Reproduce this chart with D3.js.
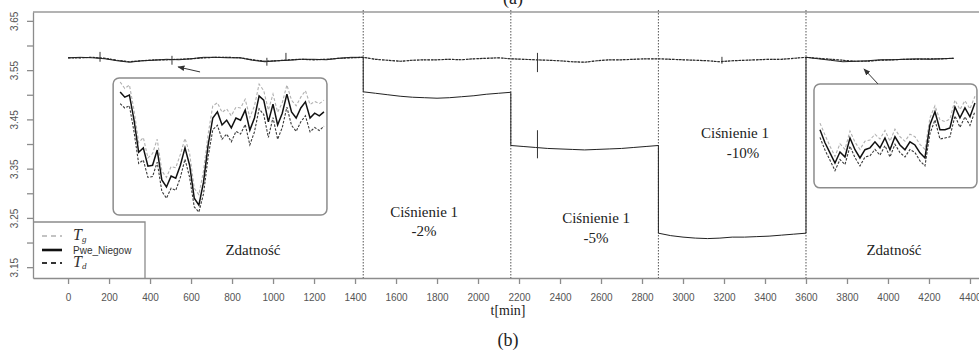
<!DOCTYPE html>
<html>
<head>
<meta charset="utf-8">
<script src="https://cdn.jsdelivr.net/npm/d3@7"></script>
<style>
    body { margin: 0; background: #fff; }
    #chart { width: 979px; height: 351px; }
    .axis text { font-family: "Liberation Sans", Arial, sans-serif; font-size: 10px; fill: #555; }
    .axis path, .axis line { stroke: #8c8c8c; stroke-width: 1.3; }
    .note { font-family: "Liberation Serif", "Times New Roman", "DejaVu Serif", serif; font-size: 15px; fill: #222; text-anchor: middle; }
</style>
</head>
<body>
<div id="chart"></div>
<script>
// axis ticks
const xTicks = [0, 200, 400, 600, 800, 1000, 1200, 1400, 1600, 1800, 2000, 2200,
    2400, 2600, 2800, 3000, 3200, 3400, 3600, 3800, 4000, 4200, 4400];
const yTicks = [3.15, 3.20, 3.25, 3.30, 3.35, 3.40, 3.45, 3.50, 3.55, 3.60, 3.65];
const yLabels = [3.15, 3.25, 3.35, 3.45, 3.55, 3.65];

// phase boundaries [min]
const phaseBounds = [1440, 2160, 2880, 3600];
const sampleStep = 60;

// T_g / T_d reference trace, t = 0..4320 every 60 min
const refTrace = [
    3.575, 3.575, 3.576, 3.574, 3.570, 3.567, 3.569, 3.571, 3.571, 3.572, 3.573, 3.575, 3.576,
    3.576, 3.575, 3.571, 3.568, 3.569, 3.571, 3.572, 3.571, 3.572, 3.574, 3.575, 3.576,
    3.572, 3.570, 3.568, 3.570, 3.571, 3.571, 3.572, 3.571, 3.573, 3.574, 3.575, 3.573,
    3.572, 3.571, 3.570, 3.569, 3.567, 3.566, 3.569, 3.571, 3.571, 3.572, 3.573, 3.573,
    3.572, 3.571, 3.570, 3.569, 3.567, 3.569, 3.570, 3.571, 3.572, 3.572, 3.574, 3.576,
    3.574, 3.572, 3.570, 3.568, 3.568, 3.570, 3.571, 3.572, 3.572, 3.573, 3.573, 3.574
];

// Pwe_Niegow, one array per phase
const pweNominalA = [3.575, 3.576, 3.575, 3.573, 3.569, 3.566, 3.569, 3.570, 3.572, 3.571, 3.573, 3.576, 3.576,
    3.575, 3.575, 3.570, 3.567, 3.569, 3.570, 3.572, 3.572, 3.571, 3.574, 3.576, 3.576];
const pweFault2 = [3.506, 3.503, 3.500, 3.497, 3.495, 3.494, 3.493, 3.494, 3.496, 3.498, 3.501, 3.503, 3.505];
const pweFault5 = [3.397, 3.395, 3.393, 3.391, 3.390, 3.389, 3.388, 3.389, 3.390, 3.391, 3.393, 3.395, 3.397];
const pweFault10 = [3.219, 3.214, 3.211, 3.209, 3.208, 3.209, 3.211, 3.211, 3.212, 3.213, 3.215, 3.217, 3.219];
const pweNominalB = [3.576, 3.573, 3.570, 3.567, 3.568, 3.569, 3.571, 3.571, 3.572, 3.573, 3.572, 3.573, 3.574];

// short disturbances
const spikes = [
    { t: 156, lo: 3.567, hi: 3.587 },
    { t: 507, lo: 3.561, hi: 3.579 },
    { t: 970, lo: 3.559, hi: 3.575 },
    { t: 1063, lo: 3.571, hi: 3.585 },
    { t: 2290, lo: 3.546, hi: 3.585 },
    { t: 2290, lo: 3.371, hi: 3.428 },
    { t: 3190, lo: 3.563, hi: 3.577 }
];

// zoomed insets
const leftTg = [3.5900, 3.5885, 3.5893, 3.5835, 3.5760, 3.5772, 3.5725, 3.5735, 3.5768, 3.5695, 3.5680, 3.5705,
    3.5702, 3.5733, 3.5770, 3.5735, 3.5655, 3.5640, 3.5695, 3.5780, 3.5845, 3.5852, 3.5830, 3.5838, 3.5822, 3.5842,
    3.5840, 3.5860, 3.5818, 3.5845, 3.5895, 3.5880, 3.5835, 3.5872, 3.5830, 3.5852, 3.5893, 3.5858, 3.5845, 3.5865,
    3.5880, 3.5848, 3.5855, 3.5850, 3.5858];
const leftPwe = [3.5877, 3.5865, 3.5870, 3.5812, 3.5738, 3.5748, 3.5706, 3.5708, 3.5743, 3.5674, 3.5658, 3.5683,
    3.5678, 3.5708, 3.5748, 3.5708, 3.5632, 3.5616, 3.5669, 3.5755, 3.5817, 3.5831, 3.5801, 3.5812, 3.5794, 3.5817,
    3.5812, 3.5835, 3.5789, 3.5817, 3.5868, 3.5858, 3.5808, 3.5849, 3.5801, 3.5828, 3.5872, 3.5831, 3.5817, 3.5840,
    3.5854, 3.5817, 3.5828, 3.5822, 3.5831];
const leftTd = [3.5850, 3.5840, 3.5845, 3.5785, 3.5712, 3.5720, 3.5680, 3.5682, 3.5715, 3.5648, 3.5632, 3.5655,
    3.5650, 3.5680, 3.5722, 3.5680, 3.5612, 3.5600, 3.5642, 3.5728, 3.5790, 3.5800, 3.5768, 3.5780, 3.5762, 3.5786,
    3.5780, 3.5802, 3.5755, 3.5785, 3.5838, 3.5825, 3.5772, 3.5818, 3.5768, 3.5795, 3.5842, 3.5800, 3.5786, 3.5808,
    3.5822, 3.5785, 3.5795, 3.5788, 3.5798];

const rightTg = [3.5795, 3.5758, 3.5722, 3.5690, 3.5730, 3.5712, 3.5770, 3.5735, 3.5712, 3.5738, 3.5742, 3.5760,
    3.5745, 3.5772, 3.5738, 3.5776, 3.5752, 3.5738, 3.5760, 3.5752, 3.5728, 3.5712, 3.5812, 3.5850, 3.5805, 3.5800,
    3.5808, 3.5868, 3.5838, 3.5866, 3.5840, 3.5880];
const rightPwe = [3.5774, 3.5733, 3.5701, 3.5669, 3.5704, 3.5688, 3.5748, 3.5711, 3.5685, 3.5711, 3.5717, 3.5736,
    3.5717, 3.5748, 3.5711, 3.5752, 3.5726, 3.5711, 3.5736, 3.5726, 3.5701, 3.5685, 3.5790, 3.5831, 3.5774, 3.5774,
    3.5780, 3.5846, 3.5812, 3.5843, 3.5815, 3.5859];
const rightTd = [3.5750, 3.5710, 3.5678, 3.5645, 3.5680, 3.5664, 3.5722, 3.5686, 3.5660, 3.5688, 3.5692, 3.5712,
    3.5694, 3.5724, 3.5688, 3.5728, 3.5702, 3.5688, 3.5712, 3.5702, 3.5676, 3.5660, 3.5762, 3.5805, 3.5745, 3.5748,
    3.5752, 3.5818, 3.5782, 3.5815, 3.5788, 3.5832];
const insetDomain = [3.560, 3.590];


class PressureChart {
    constructor(parentElement) {
        this.parentElement = parentElement;
        this.initVis();
    }

    initVis() {
        const vis = this;

        vis.width = 979;
        vis.height = 351;
        vis.plot = { left: 33, top: 12, right: 979, bottom: 278 };

        vis.svg = d3.select("#" + vis.parentElement)
            .append("svg")
            .attr("width", vis.width)
            .attr("height", vis.height);

        vis.svg.append("defs")
            .append("marker")
            .attr("id", "arrow")
            .attr("viewBox", "0 0 10 10")
            .attr("refX", 9).attr("refY", 5)
            .attr("markerWidth", 7).attr("markerHeight", 7)
            .attr("orient", "auto")
            .append("path")
            .attr("d", "M0,1 L10,5 L0,9 Z")
            .attr("fill", "#333");

        vis.x = d3.scaleLinear().domain([-171, 4444]).range([vis.plot.left, vis.plot.right]);
        vis.y = d3.scaleLinear().domain([3.128, 3.668]).range([vis.plot.bottom, vis.plot.top]);

        vis.line = d3.line()
            .x(d => vis.x(d.t))
            .y(d => vis.y(d.v));

        vis.drawFrame();
        vis.drawSeries();
        vis.drawInsets();
        vis.drawLabels();
        vis.drawLegend();
    }

    drawFrame() {
        const vis = this;

        // top border
        vis.svg.append("line")
            .attr("x1", vis.plot.left).attr("x2", vis.plot.right)
            .attr("y1", vis.plot.top).attr("y2", vis.plot.top)
            .attr("stroke", "#9a9a9a").attr("stroke-width", 1.5);

        const xAxis = vis.svg.append("g")
            .attr("class", "axis axis--x")
            .attr("transform", `translate(0, ${vis.plot.bottom})`)
            .call(d3.axisBottom(vis.x).tickValues(xTicks).tickSize(6).tickSizeOuter(0).tickPadding(10)
                .tickFormat(d3.format("d")));
        xAxis.select(".domain").attr("stroke-width", 1.6);

        const yAxis = vis.svg.append("g")
            .attr("class", "axis axis--y")
            .attr("transform", `translate(${vis.plot.left}, 0)`)
            .call(d3.axisLeft(vis.y).tickValues(yTicks).tickSize(6).tickSizeOuter(0)
                .tickFormat(d => yLabels.some(l => Math.abs(l - d) < 1e-6) ? d3.format(".2f")(d) : ""));
        yAxis.selectAll("text")
            .attr("x", 0).attr("dy", "0.35em")
            .attr("transform", "translate(-19, 0) rotate(-90)")
            .attr("text-anchor", "middle");

        // phase separators
        vis.svg.append("g")
            .selectAll("line")
            .data(phaseBounds)
            .join("line")
            .attr("x1", d => vis.x(d)).attr("x2", d => vis.x(d))
            .attr("y1", vis.plot.top - 2).attr("y2", vis.plot.bottom)
            .attr("stroke", "#555")
            .attr("stroke-width", 1)
            .attr("stroke-dasharray", "1.5,1.5");
    }

    drawSeries() {
        const vis = this;

        const ref = refTrace.map((v, i) => ({ t: i * sampleStep, v: v }));

        const segments = [[0, pweNominalA], [1440, pweFault2], [2160, pweFault5], [2880, pweFault10], [3600, pweNominalB]];
        const pwe = segments.flatMap(([t0, vals]) => vals.map((v, i) => ({ t: t0 + i * sampleStep, v: v })));

        const g = vis.svg.append("g").attr("class", "series");

        g.append("path").datum(ref)
            .attr("d", vis.line)
            .attr("fill", "none")
            .attr("stroke", "#9a9a9a")
            .attr("stroke-width", 1)
            .attr("stroke-dasharray", "3,2");

        g.append("path").datum(ref)
            .attr("d", vis.line)
            .attr("fill", "none")
            .attr("stroke", "#2a2a2a")
            .attr("stroke-width", 1.2)
            .attr("stroke-dasharray", "2.5,1");

        g.append("path").datum(pwe)
            .attr("d", vis.line)
            .attr("fill", "none")
            .attr("stroke", "#222")
            .attr("stroke-width", 1);

        g.selectAll(".spike")
            .data(spikes)
            .join("line")
            .attr("class", "spike")
            .attr("x1", d => vis.x(d.t)).attr("x2", d => vis.x(d.t))
            .attr("y1", d => vis.y(d.hi)).attr("y2", d => vis.y(d.lo))
            .attr("stroke", "#333")
            .attr("stroke-width", 1);
    }

    drawInset(box, pad, tg, pwe, td) {
        const vis = this;

        const x0 = vis.x(box.t0), x1 = vis.x(box.t1);
        const y0 = vis.y(box.v1), y1 = vis.y(box.v0);

        const g = vis.svg.append("g").attr("class", "inset");

        g.append("rect")
            .attr("x", x0).attr("y", y0)
            .attr("width", x1 - x0).attr("height", y1 - y0)
            .attr("rx", 6)
            .attr("fill", "#fff")
            .attr("stroke", "#8c8c8c")
            .attr("stroke-width", 1.5);

        const xi = d3.scaleLinear().domain([0, pwe.length - 1]).range([x0 + pad[3], x1 - pad[1]]);
        const yi = d3.scaleLinear().domain(insetDomain).range([y1 - pad[2], y0 + pad[0]]);
        const lineI = d3.line().x((d, i) => xi(i)).y(d => yi(d));

        g.append("path").datum(tg)
            .attr("d", lineI).attr("fill", "none")
            .attr("stroke", "#b0b0b0").attr("stroke-width", 1.1)
            .attr("stroke-dasharray", "3,2");
        g.append("path").datum(td)
            .attr("d", lineI).attr("fill", "none")
            .attr("stroke", "#3a3a3a").attr("stroke-width", 1.1)
            .attr("stroke-dasharray", "2.5,1.5");
        g.append("path").datum(pwe)
            .attr("d", lineI).attr("fill", "none")
            .attr("stroke", "#111").attr("stroke-width", 1.5);
    }

    drawInsets() {
        const vis = this;

        vis.drawInset({ t0: 220, t1: 1263, v0: 3.2557, v1: 3.5341 }, [4, 3, 3, 7], leftTg, leftPwe, leftTd);
        vis.drawInset({ t0: 3639, t1: 4434, v0: 3.311, v1: 3.522 }, [6, 2, 3, 6], rightTg, rightPwe, rightTd);

        const arrows = [
            { from: [644, 3.5463], to: [537, 3.5565] },
            { from: [3951, 3.522], to: [3883, 3.5524] }
        ];
        vis.svg.append("g")
            .selectAll("line")
            .data(arrows)
            .join("line")
            .attr("x1", d => vis.x(d.from[0])).attr("y1", d => vis.y(d.from[1]))
            .attr("x2", d => vis.x(d.to[0])).attr("y2", d => vis.y(d.to[1]))
            .attr("stroke", "#333")
            .attr("stroke-width", 1)
            .attr("marker-end", "url(#arrow)");
    }

    drawLabels() {
        const vis = this;

        const notes = [
            { text: "Zdatność", t: 902, v: 3.174 },
            { text: "Ciśnienie 1", t: 1737, v: 3.2516 },
            { text: "-2%", t: 1737, v: 3.213 },
            { text: "Ciśnienie 1", t: 2576, v: 3.2394 },
            { text: "-5%", t: 2576, v: 3.199 },
            { text: "Ciśnienie 1", t: 3254, v: 3.4122 },
            { text: "-10%", t: 3293, v: 3.3715 },
            { text: "Zdatność", t: 4029, v: 3.174 }
        ];

        vis.svg.append("g")
            .selectAll("text")
            .data(notes)
            .join("text")
            .attr("class", "note")
            .attr("x", d => vis.x(d.t))
            .attr("y", d => vis.y(d.v))
            .text(d => d.text);

        vis.svg.append("text")
            .attr("class", "note")
            .attr("x", 508).attr("y", 315)
            .style("font-size", "14px")
            .text("t[min]");

        vis.svg.append("text")
            .attr("class", "note")
            .attr("x", 508).attr("y", 346)
            .style("font-size", "18px")
            .text("(b)");

        vis.svg.append("text")
            .attr("class", "note")
            .attr("x", 513).attr("y", 4)
            .style("font-size", "18px")
            .text("(a)");
    }

    drawLegend() {
        const vis = this;

        const g = vis.svg.append("g").attr("class", "legend");
        g.append("path")
            .attr("d", `M${vis.plot.left},222 H145 V${vis.plot.bottom}`)
            .attr("fill", "none")
            .attr("stroke", "#8c8c8c")
            .attr("stroke-width", 1.3);

        const items = [
            { y: 236, stroke: "#b0b0b0", width: 1.6, dash: "5,4", sub: "g" },
            { y: 250, stroke: "#111", width: 2.6, dash: null, label: "Pwe_Niegow" },
            { y: 263, stroke: "#333", width: 2, dash: "5,4", sub: "d" }
        ];

        items.forEach(it => {
            g.append("line")
                .attr("x1", 42).attr("x2", 62)
                .attr("y1", it.y).attr("y2", it.y)
                .attr("stroke", it.stroke)
                .attr("stroke-width", it.width)
                .attr("stroke-dasharray", it.dash);

            if (it.label) {
                g.append("text")
                    .attr("x", 73).attr("y", it.y + 4)
                    .attr("font-family", "Liberation Sans, Arial, sans-serif")
                    .attr("font-size", 10)
                    .attr("fill", "#333")
                    .text(it.label);
            } else {
                const t = g.append("text")
                    .attr("x", 73).attr("y", it.y + 4)
                    .attr("font-family", "Liberation Serif, Times New Roman, serif")
                    .attr("font-style", "italic")
                    .attr("font-size", 16)
                    .attr("fill", "#333");
                t.append("tspan").text("T");
                t.append("tspan").attr("font-size", 9).attr("dy", 2).text(it.sub);
            }
        });
    }
}

new PressureChart("chart");
</script>
</body>
</html>
